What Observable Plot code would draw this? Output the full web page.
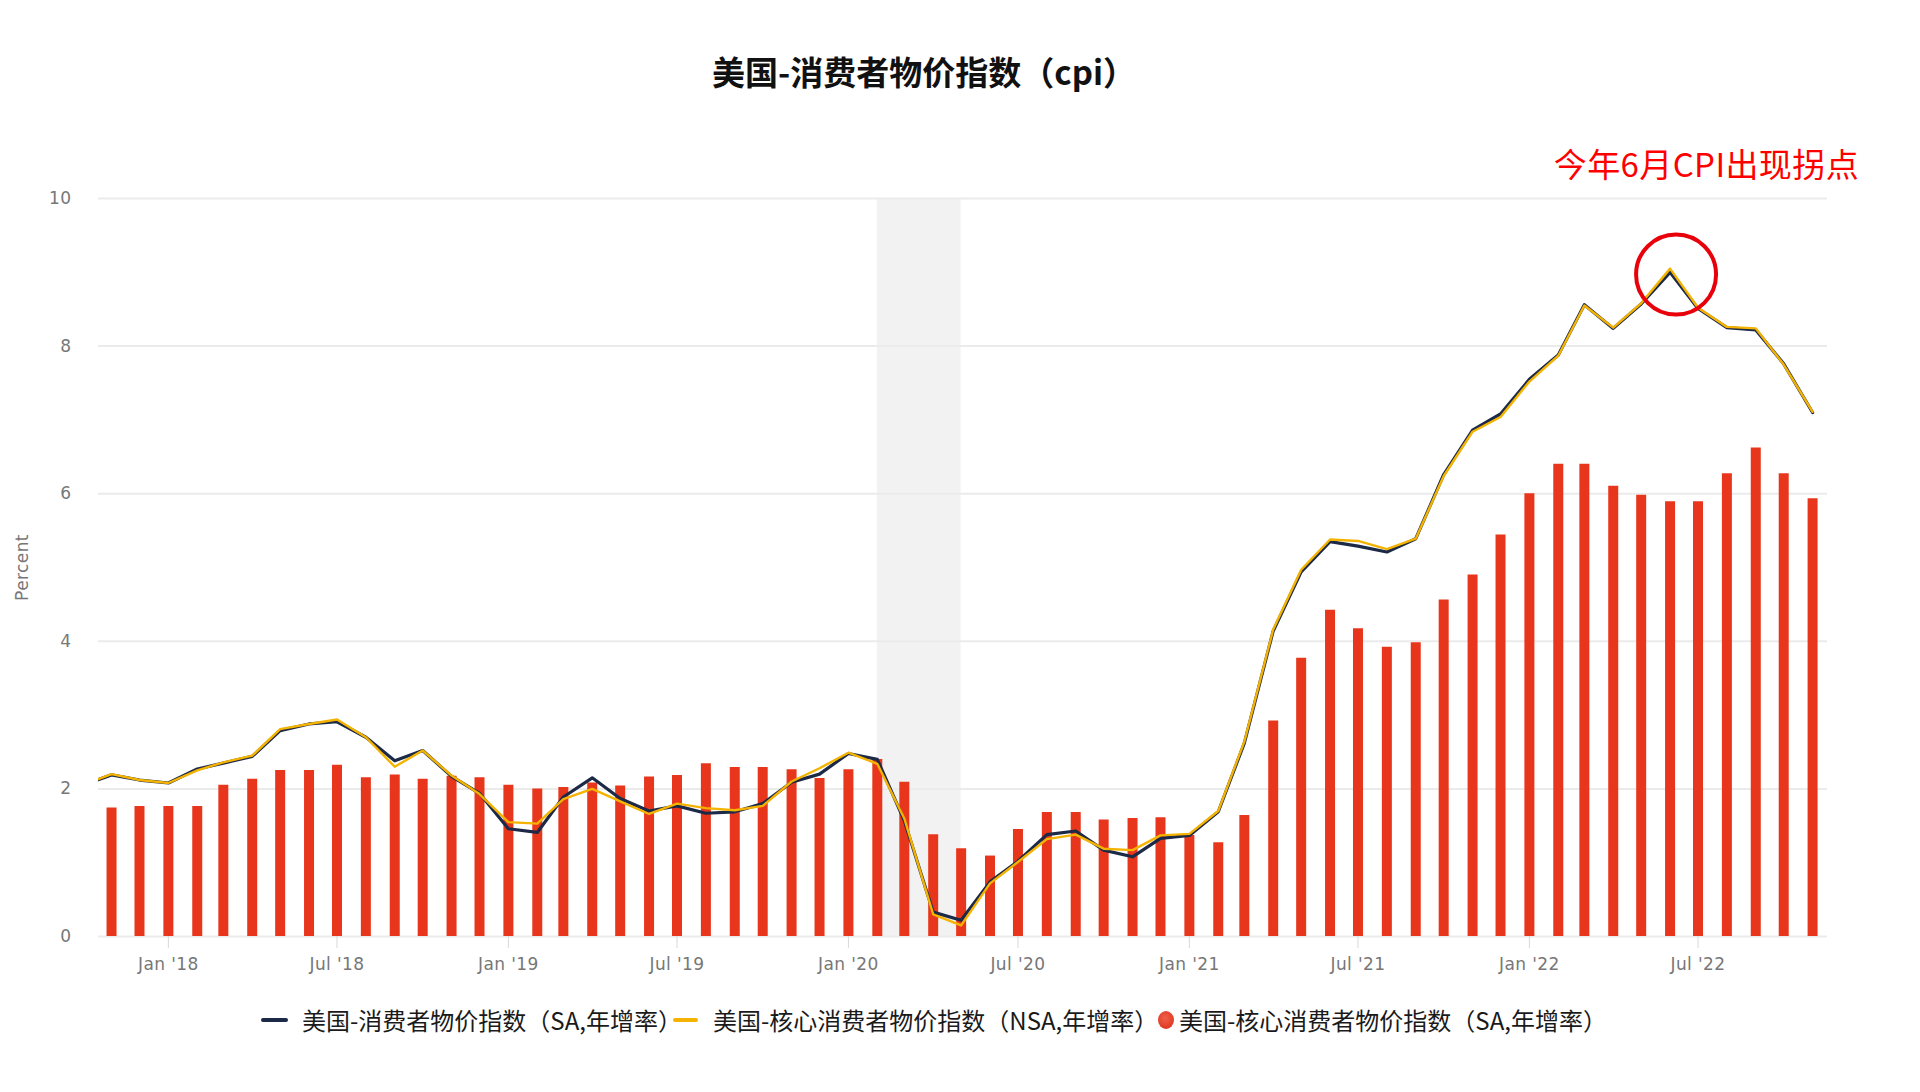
<!DOCTYPE html>
<html>
<head>
<meta charset="utf-8">
<script src="https://cdn.jsdelivr.net/npm/d3@7"></script>
<script src="https://cdn.jsdelivr.net/npm/@observablehq/plot@0.6"></script>
<style>
  body { margin: 0; background: #fff; width: 1920px; height: 1092px; overflow: hidden;
         font-family: "Noto Sans CJK SC", "Noto Sans", sans-serif; }
  #title { height: 120px; box-sizing: border-box; padding-top: 51px; width: 1848px; text-align: center;
           font-size: 33px; font-weight: bold; line-height: 40px; color: #111; }
  #chart svg { display: block; }
  #legend { position: relative; height: 60px; font-size: 24px; color: #1a1a1a; }
  .item { position: absolute; top: 30px; transform: translateY(-50%); white-space: nowrap; line-height: 30px; }
  .sw { position: absolute; top: 30px; height: 4px; transform: translateY(-50%); border-radius: 2px; }
  .dotsw { position: absolute; top: 30px; width: 16px; height: 18px; transform: translateY(-50%); border-radius: 50%;
           background: radial-gradient(circle at 45% 40%, #f0604a, #d92a14); }
</style>
</head>
<body>
<div id="title">美国-消费者物价指数（cpi）</div>
<div id="chart"></div>
<div id="legend"></div>
<script>
// ---- data ----
const months = [
  "2017-10","2017-11","2017-12",
  "2018-01","2018-02","2018-03","2018-04","2018-05","2018-06","2018-07","2018-08","2018-09","2018-10","2018-11","2018-12",
  "2019-01","2019-02","2019-03","2019-04","2019-05","2019-06","2019-07","2019-08","2019-09","2019-10","2019-11","2019-12",
  "2020-01","2020-02","2020-03","2020-04","2020-05","2020-06","2020-07","2020-08","2020-09","2020-10","2020-11","2020-12",
  "2021-01","2021-02","2021-03","2021-04","2021-05","2021-06","2021-07","2021-08","2021-09","2021-10","2021-11","2021-12",
  "2022-01","2022-02","2022-03","2022-04","2022-05","2022-06","2022-07","2022-08","2022-09","2022-10","2022-11"
];
// 美国-消费者物价指数（SA,年增率）
const cpiSA = [
  2.05,2.19,2.12,
  2.08,2.27,2.35,2.44,2.79,2.88,2.91,2.70,2.38,2.52,2.17,1.94,
  1.46,1.41,1.89,2.15,1.87,1.70,1.77,1.67,1.69,1.80,2.09,2.20,
  2.48,2.40,1.57,0.33,0.22,0.74,1.02,1.38,1.43,1.17,1.08,1.33,
  1.37,1.69,2.62,4.14,4.94,5.35,5.29,5.21,5.39,6.26,6.86,7.08,
  7.55,7.88,8.56,8.24,8.57,9.00,8.51,8.25,8.22,7.76,7.10
];
// 美国-核心消费者物价指数（NSA,年增率）
const cpiNSA = [
  2.05,2.20,2.12,
  2.08,2.25,2.36,2.45,2.81,2.88,2.94,2.70,2.30,2.52,2.18,1.93,
  1.55,1.53,1.86,2.00,1.83,1.66,1.80,1.74,1.71,1.77,2.10,2.28,
  2.49,2.34,1.60,0.30,0.15,0.72,1.01,1.32,1.38,1.19,1.17,1.37,
  1.39,1.70,2.64,4.16,4.97,5.38,5.36,5.25,5.39,6.24,6.84,7.04,
  7.52,7.87,8.55,8.25,8.58,9.05,8.52,8.26,8.24,7.75,7.11
];
// 美国-核心消费者物价指数（SA,年增率） — bars, Nov 2017 … Nov 2022
const coreMonths = months.slice(1);
const coreSA = [
  1.74,1.76,
  1.76,1.76,2.05,2.13,2.25,2.25,2.32,2.15,2.19,2.13,2.17,2.15,
  2.05,2.00,2.02,2.08,2.04,2.16,2.18,2.34,2.29,2.29,2.26,2.14,
  2.26,2.40,2.09,1.38,1.19,1.09,1.45,1.68,1.68,1.58,1.60,1.61,
  1.37,1.27,1.64,2.92,3.77,4.42,4.17,3.92,3.98,4.56,4.90,5.44,
  6.00,6.40,6.40,6.10,5.98,5.89,5.89,6.27,6.62,6.27,5.93
];
const yTicks = [0, 2, 4, 6, 8, 10];
const xTickMonths = ["2018-01","2018-07","2019-01","2019-07","2020-01","2020-07","2021-01","2021-07","2022-01","2022-07"];
const xDomain = ["2017-10-18", "2022-11-17"];
const recession = [{start: "2020-02", end: "2020-05"}];
const peakMonth = ["2022-06"], peakValue = [8.97];
const noteText = ["今年6月CPI出现拐点"], noteDate = ["2022-07-10"], noteValue = [10.44];
const yLabel = ["Percent"];
const seriesNames = ["美国-消费者物价指数（SA,年增率）", "美国-核心消费者物价指数（NSA,年增率）", "美国-核心消费者物价指数（SA,年增率）"];
const colors = ["#1c2a48", "#f5b301", "#e8361c"];

// ---- build tables ----
const pm = d3.utcParse("%Y-%m");
const pd = d3.utcParse("%Y-%m-%d");
const lineData = months.map((m, i) => ({date: pm(m), sa: cpiSA[i], nsa: cpiNSA[i]}));
const barData = coreMonths.map((m, i) => ({date: pm(m), v: coreSA[i]}));
const recData = recession.map(r => ({x1: pm(r.start), x2: pm(r.end)}));
const peakData = peakMonth.map((m, i) => ({date: pm(m), v: peakValue[i]}));
const noteData = noteText.map((t, i) => ({t, date: pd(noteDate[i]), v: noteValue[i]}));

const tickFont = "'DejaVu Sans', 'Open Sans', sans-serif";
const chart = Plot.plot({
  width: 1920,
  height: 870,
  marginLeft: 98,
  marginRight: 93,
  marginTop: 78,
  marginBottom: 54,
  style: {fontFamily: tickFont, fontSize: "17px", background: "#fff", overflow: "visible", letterSpacing: "0.4px"},
  x: {type: "utc", domain: xDomain.map(pd)},
  y: {domain: [0, 10]},
  marks: [
    Plot.rect(recData, {x1: "x1", x2: "x2", y1: 0, y2: 10, fill: "#f2f2f2"}),
    Plot.ruleY(yTicks, {stroke: "#ebebeb", strokeWidth: 2}),
    Plot.ruleX(barData, {x: "date", y1: 0, y2: "v", stroke: colors[2], strokeWidth: 10}),
    Plot.line(lineData, {x: "date", y: "sa", stroke: colors[0], strokeWidth: 3.2, clip: true}),
    Plot.line(lineData, {x: "date", y: "nsa", stroke: colors[1], strokeWidth: 2.4, clip: true}),
    Plot.dot(peakData, {x: "date", y: "v", r: 40, dx: 6, stroke: "#e8000b", strokeWidth: 4, fill: "none"}),
    Plot.text(noteData, {x: "date", y: "v", text: "t", fill: "#ff0000", fontSize: 33,
      fontFamily: "'Noto Sans CJK SC', sans-serif", textAnchor: "middle"}),
    Plot.axisY({ticks: yTicks, tickSize: 0, tickPadding: 27, fill: "#777", label: null}),
    Plot.text(yLabel, {frameAnchor: "left", rotate: -90, dx: -76, fill: "#777", fontSize: 17,
      textAnchor: "middle", lineAnchor: "middle"}),
    Plot.axisX({ticks: xTickMonths.map(pm), tickFormat: d3.utcFormat("%b '%y"), tickSize: 12, tickPadding: 9,
      stroke: "#d8d8d8", fill: "#777", label: null})
  ]
});
document.getElementById("chart").appendChild(chart);

// ---- legend ----
const leg = document.getElementById("legend");
const legendItems = [
  {kind: "line", color: colors[0], swX: 261, swW: 27, textX: 302, text: seriesNames[0]},
  {kind: "line", color: colors[1], swX: 673, swW: 25, textX: 713, text: seriesNames[1]},
  {kind: "dot",  color: colors[2], swX: 1158, swW: 16, textX: 1179, text: seriesNames[2]}
];
legendItems.forEach(it => {
  const sw = document.createElement("div");
  if (it.kind === "line") {
    sw.className = "sw";
    sw.style.width = it.swW + "px";
    sw.style.background = it.color;
  } else {
    sw.className = "dotsw";
  }
  sw.style.left = it.swX + "px";
  leg.appendChild(sw);
  const tx = document.createElement("div");
  tx.className = "item";
  tx.style.left = it.textX + "px";
  tx.textContent = it.text;
  leg.appendChild(tx);
});
</script>
</body>
</html>
